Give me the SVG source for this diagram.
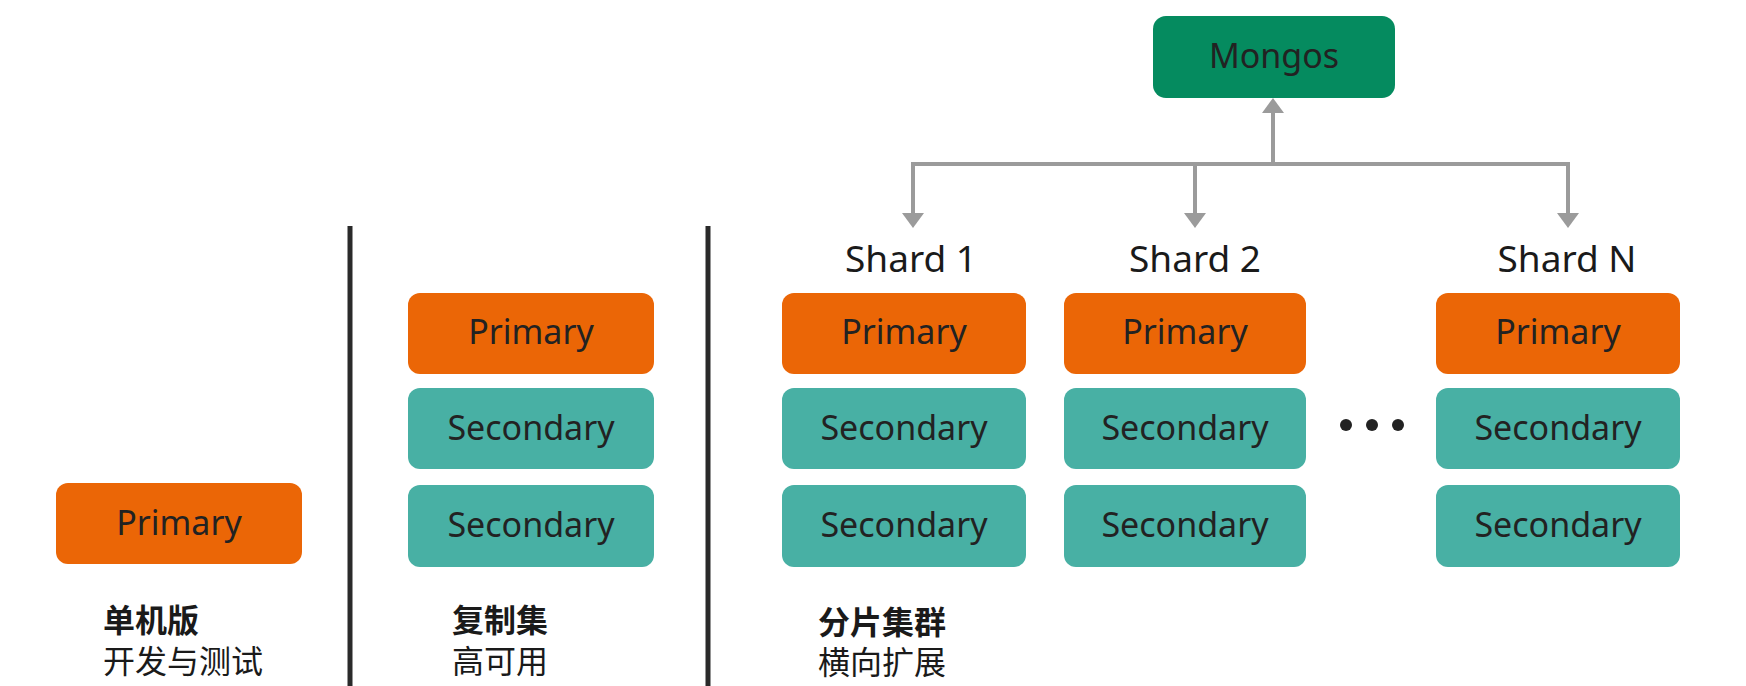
<svg xmlns="http://www.w3.org/2000/svg" width="1746" height="686" viewBox="0 0 1746 686">
<defs>
<style>
.pri{fill:#EB6606;}
.sec{fill:#48B0A4;}
.mon{fill:#058B5F;}
.lbl{font-family:"Noto Sans","Open Sans","DejaVu Sans",sans-serif;font-size:34px;fill:#222;text-anchor:middle;}
.shard{font-family:"Noto Sans","Open Sans","DejaVu Sans",sans-serif;font-size:37px;fill:#1a1a1a;text-anchor:middle;}
.cap{font-family:"Liberation Sans","Noto Sans CJK SC",sans-serif;font-size:32px;fill:#1a1a1a;}
.capb{font-weight:bold;}
.sep{stroke:#2a2a2a;stroke-width:5;}
.conn{stroke:#9b9b9b;stroke-width:4;fill:none;}
</style>
</defs>
<rect width="1746" height="686" fill="#fff"/>

<g id="separators">
<line class="sep" x1="350" y1="226" x2="350" y2="686"/>
<line class="sep" x1="708" y1="226" x2="708" y2="686"/>
</g>

<g id="connectors">
<path class="conn" d="M1273,164 V113" stroke-width="6"/>
<path d="M1262,113 L1284,113 L1273,98 Z" fill="#9b9b9b"/>
<path class="conn" d="M913,214 V164 H1568 V214"/>
<path class="conn" d="M1195,164 V214"/>
<path d="M902,213 L924,213 L913,228 Z" fill="#9b9b9b"/>
<path d="M1184,213 L1206,213 L1195,228 Z" fill="#9b9b9b"/>
<path d="M1557,213 L1579,213 L1568,228 Z" fill="#9b9b9b"/>
</g>

<g id="mongos">
<rect class="mon" x="1153" y="16" width="242" height="82" rx="13"/>
<text class="lbl" x="1274" y="68">Mongos</text>
</g>

<g id="standalone">
<rect class="pri" x="56" y="483" width="246" height="81" rx="12"/>
<text class="lbl" x="179" y="535">Primary</text>
<text class="cap capb" x="103" y="632">单机版</text>
<text class="cap" x="103" y="673">开发与测试</text>
</g>

<g id="replicaset">
<rect class="pri" x="408" y="293" width="246" height="81" rx="12"/>
<text class="lbl" x="531" y="344">Primary</text>
<rect class="sec" x="408" y="388" width="246" height="81" rx="12"/>
<text class="lbl" x="531" y="440">Secondary</text>
<rect class="sec" x="408" y="485" width="246" height="82" rx="12"/>
<text class="lbl" x="531" y="537">Secondary</text>
<text class="cap capb" x="452" y="632">复制集</text>
<text class="cap" x="452" y="673">高可用</text>
</g>

<g id="shard1">
<text class="shard" x="911" y="272">Shard 1</text>
<rect class="pri" x="782" y="293" width="244" height="81" rx="12"/>
<text class="lbl" x="904" y="344">Primary</text>
<rect class="sec" x="782" y="388" width="244" height="81" rx="12"/>
<text class="lbl" x="904" y="440">Secondary</text>
<rect class="sec" x="782" y="485" width="244" height="82" rx="12"/>
<text class="lbl" x="904" y="537">Secondary</text>
</g>

<g id="shard2">
<text class="shard" x="1195" y="272">Shard 2</text>
<rect class="pri" x="1064" y="293" width="242" height="81" rx="12"/>
<text class="lbl" x="1185" y="344">Primary</text>
<rect class="sec" x="1064" y="388" width="242" height="81" rx="12"/>
<text class="lbl" x="1185" y="440">Secondary</text>
<rect class="sec" x="1064" y="485" width="242" height="82" rx="12"/>
<text class="lbl" x="1185" y="537">Secondary</text>
</g>

<g id="ellipsis">
<circle cx="1346" cy="425" r="6" fill="#222"/>
<circle cx="1372" cy="425" r="6" fill="#222"/>
<circle cx="1398" cy="425" r="6" fill="#222"/>
</g>

<g id="shardN">
<text class="shard" x="1567" y="272">Shard N</text>
<rect class="pri" x="1436" y="293" width="244" height="81" rx="12"/>
<text class="lbl" x="1558" y="344">Primary</text>
<rect class="sec" x="1436" y="388" width="244" height="81" rx="12"/>
<text class="lbl" x="1558" y="440">Secondary</text>
<rect class="sec" x="1436" y="485" width="244" height="82" rx="12"/>
<text class="lbl" x="1558" y="537">Secondary</text>
</g>

<g id="cluster-caption">
<text class="cap capb" x="818" y="634">分片集群</text>
<text class="cap" x="818" y="674">横向扩展</text>
</g>
</svg>
